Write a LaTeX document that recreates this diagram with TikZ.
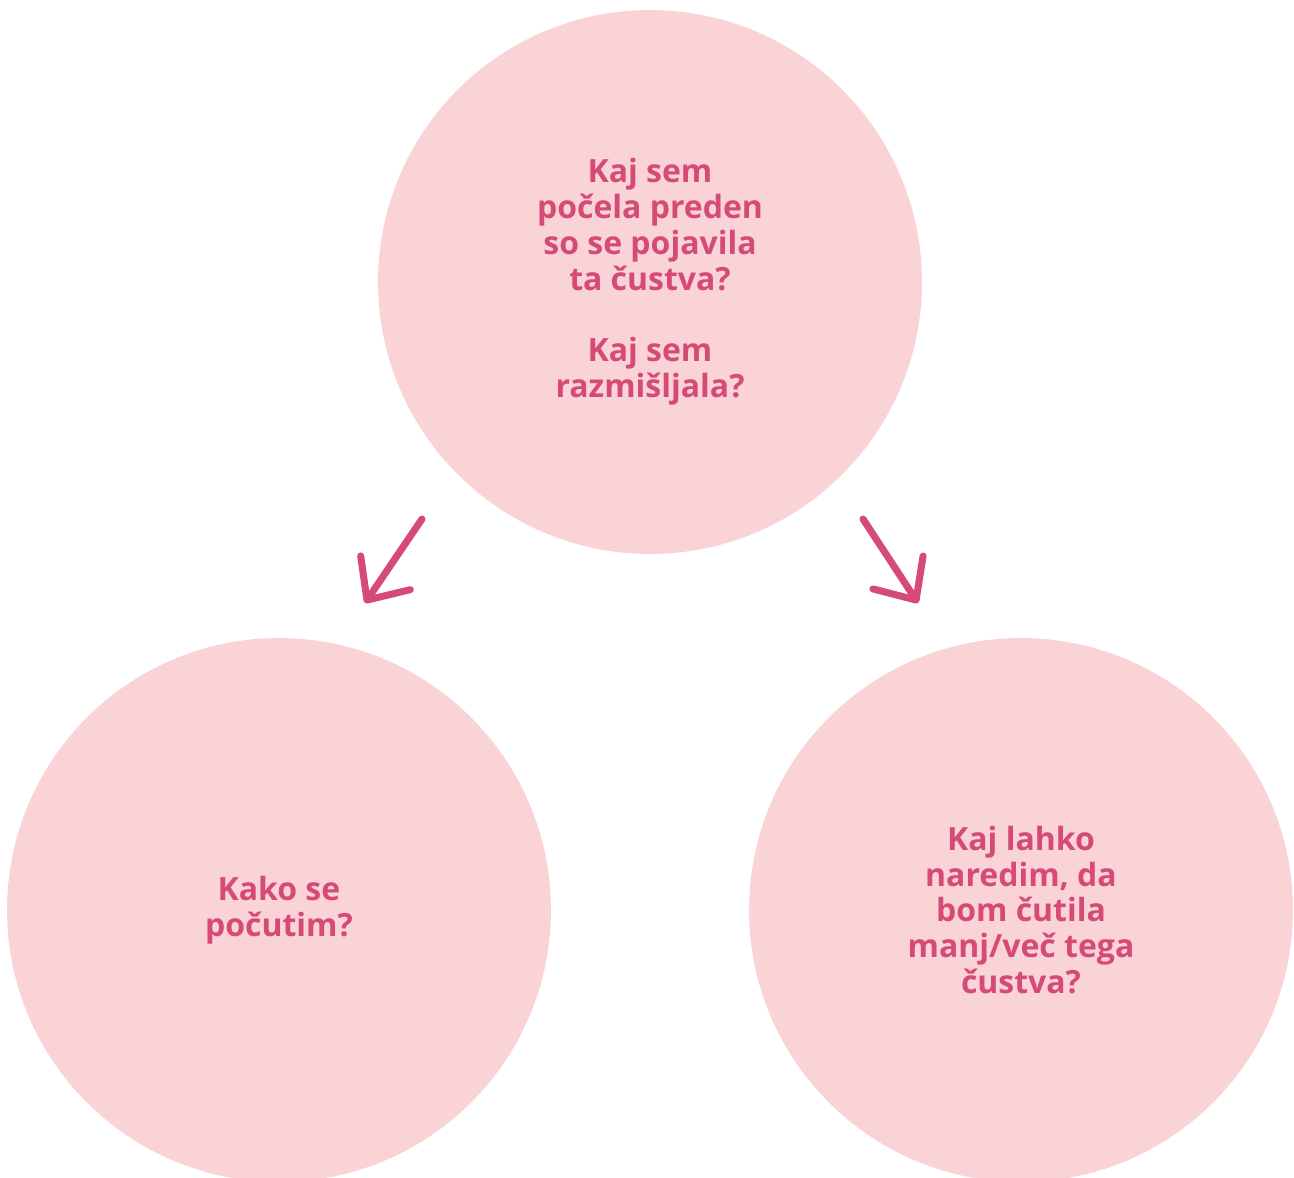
\documentclass[tikz,border=0pt]{standalone}
\usepackage{fontspec}
\setmainfont{Open Sans}
\usepackage{tikz}
\usetikzlibrary{arrows.meta}
\definecolor{bubble}{HTML}{F9D3D5}
\definecolor{ink}{HTML}{D64A78}
\tikzset{
  question/.style={
    circle, fill=bubble, draw=none, minimum size=10.88cm, inner sep=0pt,
    align=center, text=ink, font=\fontsize{18.2}{20.4}\selectfont\bfseries},
  flow/.style={draw=ink, line width=4pt, line cap=round,
    -{Straight Barb[length=6.6mm, width=12mm, round]}},
}

\begin{document}
\begin{tikzpicture}[x=0.02cm, y=-0.02cm]
  \useasboundingbox (0,0) rectangle (1294,1177);

  \node[question] (before) at (650,282)
    {Kaj sem\\počela preden\\so se pojavila\\ta čustva?\\[20.4pt]
     Kaj sem\\razmišljala?};
  \node[question] (feel) at (279,910) {Kako se\\počutim?};
  \node[question] (act) at (1021,910)
    {Kaj lahko\\naredim, da\\bom čutila\\manj/več tega\\čustva?};

  \coordinate (feel-from) at (422,519);
  \coordinate (feel-to) at (365,603);
  \coordinate (act-from) at (863,519);
  \coordinate (act-to) at (918,603);

  \draw[flow] (feel-from) -- (feel-to);
  \draw[flow] (act-from) -- (act-to);

\end{tikzpicture}
\end{document}
